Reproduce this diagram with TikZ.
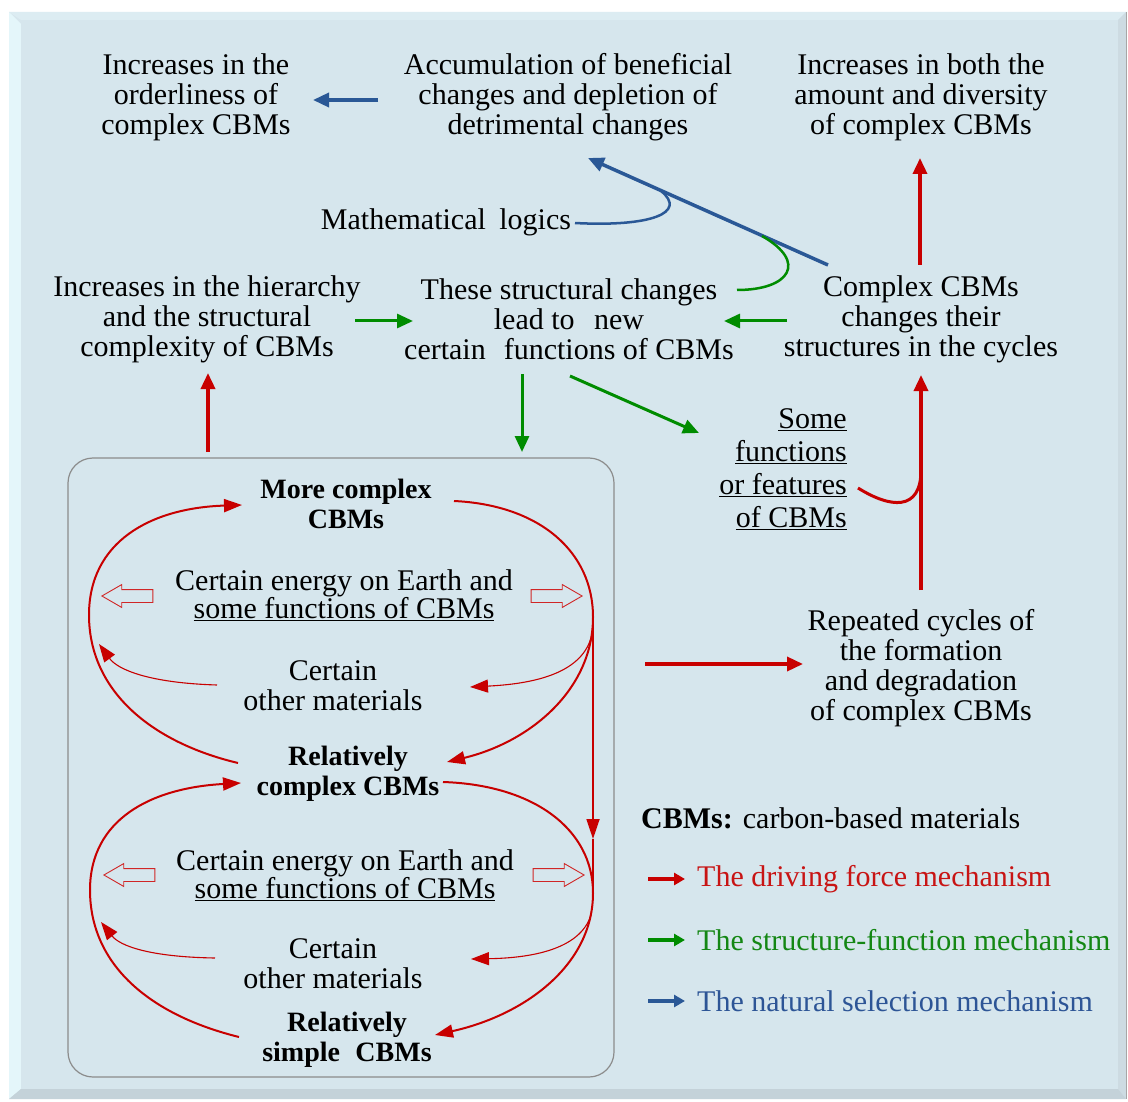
\documentclass[tikz,border=0pt]{standalone}
\usepackage{fontspec}
\setmainfont{Liberation Serif}
\newfontfamily\tnr{Liberation Serif}
\usetikzlibrary{arrows.meta,shapes.arrows}
\definecolor{bg}{RGB}{214,230,237}
\definecolor{bevL}{RGB}{228,246,250}
\definecolor{bevT}{RGB}{220,236,242}
\definecolor{bevB}{RGB}{196,210,217}
\definecolor{bevR}{RGB}{205,219,226}
\definecolor{myred}{RGB}{200,0,0}
\definecolor{mygreen}{RGB}{0,140,0}
\definecolor{myblue}{RGB}{42,88,150}
\definecolor{txtred}{RGB}{200,20,20}
\definecolor{txtgreen}{RGB}{20,135,20}
\definecolor{txtblue}{RGB}{45,85,150}
\definecolor{boxgray}{RGB}{140,140,140}
\begin{document}
\begin{tikzpicture}[x=1pt,y=-1pt,
  txt/.style={align=center, inner sep=0pt, text=black, font=\tnr\fontsize{30}{30}\selectfont},
  btxt/.style={align=center, inner sep=0pt, text=black, font=\tnr\fontsize{28}{30}\selectfont\bfseries},
  bigred/.style={draw=myred, line width=3.5pt, -{Triangle[length=16pt,width=14pt]}},
  biggreen/.style={draw=mygreen, line width=3pt, -{Triangle[length=16pt,width=14pt]}},
  bigblue/.style={draw=myblue, line width=3.5pt, -{Triangle[length=16pt,width=14pt]}},
  looparc/.style={draw=myred, line width=2pt, -{Triangle[length=18pt,width=13pt]}},
  thinarc/.style={draw=myred, line width=1.1pt, -{Triangle[length=18pt,width=13pt]}},
  hollow/.style={single arrow, draw=myred!85, fill=bg, line width=0.9pt, inner sep=6pt,
    minimum height=51pt, single arrow head extend=5pt, single arrow tip angle=60, anchor=center},
  legarr/.style={line width=3.5pt, -{Triangle[length=11pt,width=12pt]}},
  legtxt/.style={anchor=west, inner sep=0pt, font=\tnr\fontsize{30}{30}\selectfont}
]
\useasboundingbox (0,0) rectangle (1128,1102);
% panel
\fill[white] (0,0) rectangle (1128,1102);
\fill[bg] (9,12) rectangle (1126,1099);
\fill[bevL] (9,12) -- (21,24) -- (21,1089) -- (9,1099) -- cycle;
\fill[bevT] (9,12) -- (1126,12) -- (1118,20) -- (21,20) -- cycle;
\fill[bevR] (1126,12) -- (1126,1099) -- (1118,1089) -- (1118,20) -- cycle;
\fill[bevB] (9,1099) -- (21,1089) -- (1118,1089) -- (1126,1099) -- cycle;
\fill[bg] (21,20) rectangle (1118,1089);
\draw[gray!70, line width=0.6pt] (1126,12) -- (1126,1099);

% loop box
\draw[boxgray, line width=1.2pt, rounded corners=25pt] (68,458) rectangle (614,1077);

% top row
\node[txt] (order) at (196,97) {Increases in the\\orderliness of\\complex CBMs};
\node[txt] (accum) at (568,97) {Accumulation of beneficial\\changes and depletion of\\detrimental changes};
\node[txt] (diverse) at (921,97) {Increases in both the\\amount and diversity\\of complex CBMs};
\node[txt] (math) at (446,222) {Mathematical\hspace{0.45em}logics};

% middle row
\node[txt] (hier) at (207,319) {Increases in the hierarchy\\and the structural\\complexity of CBMs};
\node[txt] (struct) at (569,319) {These structural changes\\lead to\hspace{0.4em} new\\certain\hspace{0.35em} functions of CBMs};
\node[txt] (cplx) at (921,319) {Complex CBMs\\changes their\\structures in the cycles};

\node[align=right, inner sep=0pt, anchor=east, font=\tnr\fontsize{30}{33}\selectfont] (somef) at (847,469)
  {\underline{Some}\\\underline{functions}\\\underline{or features}\\\underline{of CBMs}};
\node[txt] (repeat) at (921,668) {Repeated cycles of\\the formation\\and degradation\\of complex CBMs};

% loop box content
\node[btxt] (more) at (346,504) {More complex\\CBMs};
\node[txt, font=\tnr\fontsize{30}{28}\selectfont] (en1) at (344,595) {Certain energy on Earth and\\\underline{some functions of CBMs}};
\node[txt] (oth1) at (333,686) {Certain\\other materials};
\node[btxt] (relc) at (348,774) {Relatively\\complex CBMs};
\node[txt, font=\tnr\fontsize{30}{28}\selectfont] (en2) at (345,875) {Certain energy on Earth and\\\underline{some functions of CBMs}};
\node[txt] (oth2) at (333,964) {Certain\\other materials};
\node[btxt] (rels) at (347,1040) {Relatively\\simple\hspace{0.3em} CBMs};

\node[hollow, shape border rotate=180] (h1l) at (133,596) {};
\node[hollow] (h1r) at (551,596) {};
\node[hollow, shape border rotate=180] (h2l) at (135,875) {};
\node[hollow] (h2r) at (553,875) {};

% coordinates
\coordinate (b1s) at (378,100); \coordinate (b1e) at (313,100);
\coordinate (r1s) at (920,265); \coordinate (r1e) at (920,158);
\coordinate (b2s) at (828,265); \coordinate (b2e) at (588,158);
\coordinate (mathend) at (575,223); \coordinate (mathj) at (661,191);
\coordinate (strend) at (737,290); \coordinate (strj) at (762,236);
\coordinate (g1s) at (355,321); \coordinate (g1e) at (413,321);
\coordinate (g2s) at (787,321); \coordinate (g2e) at (724,321);
\coordinate (r2s) at (208,452); \coordinate (r2e) at (208,373);
\coordinate (g3s) at (522,374); \coordinate (g3e) at (522,452);
\coordinate (g4s) at (570,376); \coordinate (g4e) at (699,433);
\coordinate (r3s) at (921,590); \coordinate (r3e) at (921,375);
\coordinate (sfs) at (858,488); \coordinate (sfj) at (921,470);
\coordinate (r4s) at (645,664); \coordinate (r4e) at (803,664);

% arrows top/middle
\draw[bigblue] (b1s) -- (b1e);
\draw[bigred] (r1s) -- (r1e);
\draw[bigblue] (b2s) -- (b2e);
\draw[myblue, line width=2.5pt] (mathend) .. controls (650,227) and (688,213) .. (mathj);
\draw[mygreen, line width=2.5pt] (strend) .. controls (790,290) and (808,262) .. (strj);
\draw[biggreen] (g1s) -- (g1e);
\draw[biggreen] (g2s) -- (g2e);
\draw[bigred] (r2s) -- (r2e);
\draw[biggreen] (g3s) -- (g3e);
\draw[biggreen] (g4s) -- (g4e);
\draw[bigred] (r3s) -- (r3e);
\draw[myred, line width=3pt] (sfs) .. controls (890,508) and (921,512) .. (sfj);
\draw[bigred] (r4s) -- (r4e);

% upper loop
\coordinate (u1) at (238,763); \coordinate (u2) at (89,615); \coordinate (u3) at (242,505);
\coordinate (u4) at (454,501); \coordinate (u5) at (593,617); \coordinate (u6) at (447,762);
\draw[looparc] (u1) .. controls (150,742) and (89,690) .. (u2) .. controls (89,542) and (150,508) .. (u3);
\draw[looparc] (u4) .. controls (540,505) and (593,552) .. (u5) .. controls (593,690) and (530,742) .. (u6);
\coordinate (t1s) at (217,685); \coordinate (t1e) at (99,644);
\draw[thinarc] (t1s) .. controls (150,683) and (118,670) .. (t1e);
\coordinate (t2s) at (591,638); \coordinate (t2e) at (470,687);
\draw[thinarc] (t2s) .. controls (580,675) and (530,684) .. (t2e);

% vertical connection
\coordinate (v1) at (593,617); \coordinate (vm) at (593,839); \coordinate (v2) at (593,893);
\draw[draw=myred, line width=1.8pt, -{Triangle[length=20pt,width=13pt]}] (v1) -- (vm);
\draw[draw=myred, line width=1.8pt] (vm) -- (v2);

% lower loop
\coordinate (l1) at (239,1037); \coordinate (l2) at (90,890); \coordinate (l3) at (241,783);
\coordinate (l4) at (443,782); \coordinate (l5) at (593,893); \coordinate (l6) at (435,1035);
\draw[looparc] (l1) .. controls (150,1015) and (90,965) .. (l2) .. controls (90,820) and (150,788) .. (l3);
\draw[looparc] (l4) .. controls (535,785) and (593,830) .. (l5) .. controls (593,965) and (525,1015) .. (l6);
\coordinate (t3s) at (215,958); \coordinate (t3e) at (101,922);
\draw[thinarc] (t3s) .. controls (150,957) and (120,946) .. (t3e);
\coordinate (t4s) at (591,915); \coordinate (t4e) at (471,959);
\draw[thinarc] (t4s) .. controls (580,950) and (530,958) .. (t4e);

% legend
\node[legtxt] (leg0) at (641,818) {\textbf{CBMs:} carbon-based materials};
\node[legtxt, text=txtred] (leg1) at (697,879) {The driving force mechanism};
\node[legtxt, text=txtgreen] (leg2) at (697,940) {The structure-function mechanism};
\node[legtxt, text=txtblue] (leg3) at (697,1001) {The natural selection mechanism};
\coordinate (la1) at (648,879); \coordinate (la2) at (648,940); \coordinate (la3) at (648,1001);
\draw[legarr, myred] (la1) -- (leg1.west -| 685,0);
\draw[legarr, mygreen] (la2) -- (leg2.west -| 685,0);
\draw[legarr, myblue] (la3) -- (leg3.west -| 685,0);
\end{tikzpicture}
\end{document}
